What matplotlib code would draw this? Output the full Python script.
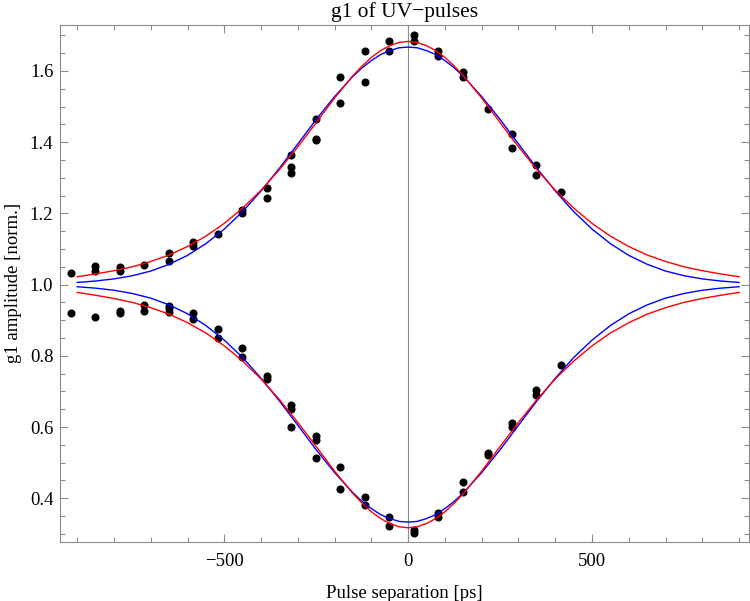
import matplotlib
matplotlib.use("Agg")
import matplotlib.pyplot as plt
from matplotlib.ticker import MultipleLocator

# measured g1 maxima / minima (upper and lower branch)
upper_x = [-918, -851, -851, -785, -785, -718, -651, -651, -585, -585, -518,
           -451, -451, -384, -384, -318, -318, -318, -251, -251, -251,
           -185, -185, -118, -118, -51, -51, 15, 15, 82, 82, 149, 149,
           216, 282, 282, 349, 349, 416]
upper_y = [1.032, 1.051, 1.037, 1.049, 1.037, 1.055, 1.090, 1.066, 1.120, 1.107, 1.143,
           1.209, 1.202, 1.271, 1.244, 1.363, 1.330, 1.313, 1.465, 1.410, 1.405,
           1.582, 1.509, 1.656, 1.568, 1.685, 1.656, 1.700, 1.684, 1.656, 1.641, 1.597, 1.583,
           1.494, 1.424, 1.384, 1.336, 1.307, 1.260]

lower_x = [-918, -851, -785, -785, -718, -718, -651, -651, -651, -585, -585,
           -518, -518, -451, -451, -384, -384, -318, -318, -318, -251, -251, -251,
           -185, -185, -118, -118, -51, -51, 15, 15, 82, 82, 149, 149,
           216, 216, 282, 282, 349, 349, 416]
lower_y = [0.919, 0.908, 0.926, 0.919, 0.944, 0.925, 0.939, 0.933, 0.924, 0.920, 0.903,
           0.874, 0.850, 0.822, 0.797, 0.743, 0.734, 0.662, 0.652, 0.601, 0.575, 0.563, 0.513,
           0.487, 0.425, 0.404, 0.381, 0.346, 0.322, 0.311, 0.303, 0.358, 0.346, 0.446, 0.417,
           0.527, 0.522, 0.610, 0.600, 0.705, 0.690, 0.774]

# fit curves
fit_x = [-900, -850, -800, -750, -700, -650, -600, -550, -500, -450, -400, -350, -300,
         -250, -200, -150, -125, -100, -75, -50, -25, 0, 25, 50, 75, 100, 125, 150,
         200, 250, 300, 350, 400, 450, 500, 550, 600, 650, 700, 750, 800, 850, 900]
blue_up = [1.006, 1.010, 1.016, 1.025, 1.038, 1.057, 1.082, 1.115, 1.156, 1.205, 1.263,
           1.327, 1.395, 1.464, 1.528, 1.585, 1.609, 1.629, 1.646, 1.657, 1.665, 1.667,
           1.665, 1.657, 1.646, 1.629, 1.609, 1.585, 1.528, 1.464, 1.395, 1.327, 1.263,
           1.205, 1.156, 1.115, 1.082, 1.057, 1.038, 1.025, 1.016, 1.010, 1.006]
blue_down = [0.994, 0.990, 0.984, 0.975, 0.962, 0.943, 0.918, 0.885, 0.844, 0.795, 0.737,
             0.673, 0.605, 0.536, 0.472, 0.415, 0.391, 0.371, 0.354, 0.343, 0.335, 0.333,
             0.335, 0.343, 0.354, 0.371, 0.391, 0.415, 0.472, 0.536, 0.605, 0.673, 0.737,
             0.795, 0.844, 0.885, 0.918, 0.943, 0.962, 0.975, 0.984, 0.990, 0.994]
red_up = [1.022, 1.030, 1.039, 1.050, 1.065, 1.083, 1.107, 1.136, 1.172, 1.215, 1.265,
          1.323, 1.387, 1.455, 1.524, 1.587, 1.614, 1.638, 1.657, 1.671, 1.680, 1.683,
          1.680, 1.671, 1.657, 1.638, 1.614, 1.587, 1.524, 1.455, 1.387, 1.323, 1.265,
          1.215, 1.172, 1.136, 1.107, 1.083, 1.065, 1.050, 1.039, 1.030, 1.022]
red_down = [0.978, 0.970, 0.961, 0.950, 0.935, 0.917, 0.893, 0.864, 0.828, 0.785, 0.735,
            0.677, 0.613, 0.545, 0.476, 0.413, 0.386, 0.362, 0.343, 0.329, 0.320, 0.317,
            0.320, 0.329, 0.343, 0.362, 0.386, 0.413, 0.476, 0.545, 0.613, 0.677, 0.735,
            0.785, 0.828, 0.864, 0.893, 0.917, 0.935, 0.950, 0.961, 0.970, 0.978]


def main():
    plt.rcParams["font.family"] = ["Liberation Serif", "DejaVu Serif"]
    plt.rcParams["font.size"] = 13.5

    fig = plt.figure(figsize=(7.5, 6.01), dpi=100)
    ax = fig.add_axes([0.0804, 0.0987, 0.9183, 0.8597])

    frame = "#8c8c8c"
    ax.axvline(0, color=frame, lw=0.8, zorder=1)

    ax.plot(upper_x, upper_y, "o", color="black", ms=4.8, zorder=2)
    ax.plot(lower_x, lower_y, "o", color="black", ms=4.8, zorder=2)

    ax.plot(fit_x, blue_up, color="blue", lw=1.0, zorder=3)
    ax.plot(fit_x, blue_down, color="blue", lw=1.0, zorder=3)
    ax.plot(fit_x, red_up, color="red", lw=1.0, zorder=4)
    ax.plot(fit_x, red_down, color="red", lw=1.0, zorder=4)

    ax.set_xlim(-946, 927)
    ax.set_ylim(0.278, 1.729)

    ax.xaxis.set_major_locator(MultipleLocator(500))
    ax.xaxis.set_minor_locator(MultipleLocator(100))
    ax.yaxis.set_major_locator(MultipleLocator(0.2))
    ax.yaxis.set_minor_locator(MultipleLocator(0.05))

    for s in ax.spines.values():
        s.set_color(frame)
        s.set_linewidth(0.8)

    ax.tick_params(which="both", direction="in", top=True, right=True,
                   color=frame, width=0.8)
    ax.tick_params(which="major", length=6)
    ax.tick_params(which="minor", length=3.5)
    ax.tick_params(axis="x", pad=8)
    ax.tick_params(axis="y", pad=5)

    ax.set_title("g1 of UV\u2212pulses", fontsize=15.5, pad=6)
    ax.set_xlabel("Pulse separation [ps]", labelpad=11)
    ax.set_ylabel("g1 amplitude [norm.]", labelpad=6)

    fig.savefig("out.png", dpi=100)


if __name__ == "__main__":
    main()
